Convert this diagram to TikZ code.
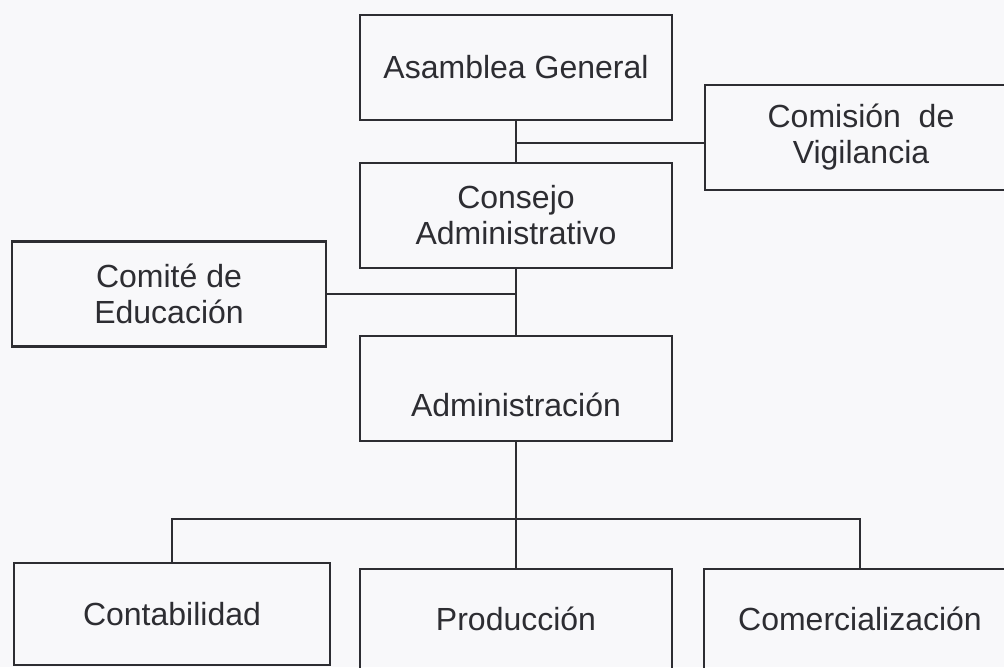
\documentclass[tikz,border=0pt]{standalone}
\usepackage{fontspec}
\setmainfont{Liberation Sans}
\usetikzlibrary{positioning}
\definecolor{ink}{RGB}{45,45,50}
\definecolor{paper}{RGB}{248,248,250}

\begin{document}
\begin{tikzpicture}[x=1pt,y=-1pt,
	unit/.style={rectangle,draw=ink,line width=2.4pt,text=ink,minimum width=312pt,
		minimum height=105pt,inner sep=0pt,align=center,font=\fontsize{32}{36}\selectfont},
	link/.style={draw=ink,line width=2.2pt}]
	
	\fill[paper] (0,0) rectangle (1004,667);
	\useasboundingbox (0,0) rectangle (1004,667);
	\clip (0,0) rectangle (1004,667);
	
	\node[unit] (asamblea) at (516,67.5) {Asamblea General};
	\node[unit] (consejo) [below=40.6pt of asamblea] {Consejo\\Administrativo};
	\node[unit] (admin) [below=65.6pt of consejo] {\raisebox{-27.5pt}[0pt][0pt]{Administración}};
	\node[unit,minimum height=100pt] (produccion) [below=125.6pt of admin] {Producción};
	\node[unit] (comision) at (861,137.5) {Comisión~ de\\Vigilancia};
	\node[unit,minimum width=314pt] (comite) at (169,294) {Comité de\\Educación};
	\node[unit,minimum width=316pt,minimum height=102pt] (contab) at (172,614) {Contabilidad};
	\node[unit,minimum height=100pt] (comerc) [right=29.6pt of produccion] {Comercialización};
	\coordinate (vig) at (516,143);
	\coordinate (bus) at (516,519);
	
	\path[link]
	(asamblea) edge (consejo)
	(consejo) edge (admin)
	(admin) edge (produccion);
	\draw[link] (vig) -- (vig -| comision.west);
	\draw[link] (comite.east) -- (comite.east -| consejo.south);
	\draw[link] (contab.north) |- (bus) -| (comerc.north);
\end{tikzpicture}
\end{document}
